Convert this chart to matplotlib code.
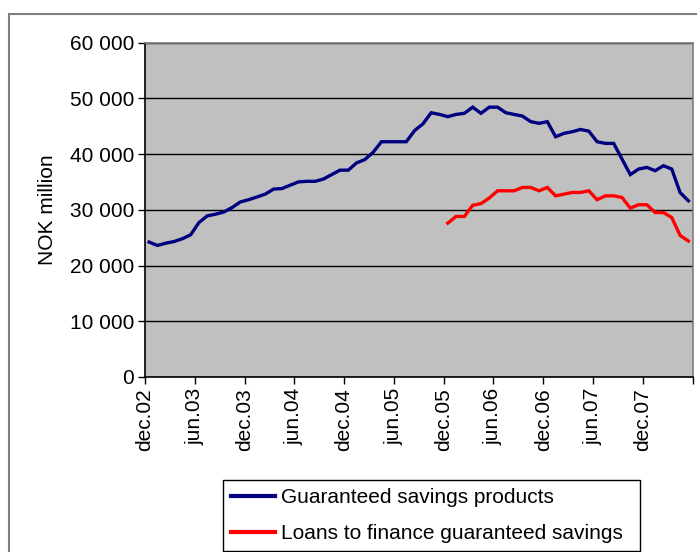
import matplotlib
matplotlib.use("Agg")
import matplotlib.pyplot as plt
from matplotlib.patches import Rectangle
from matplotlib.ticker import FuncFormatter

plt.rcParams['font.family'] = ['Liberation Sans', 'DejaVu Sans']

# monthly data, dec.02 .. may.08 (NOK million)
savings = [24200, 23600, 24000, 24300, 24800, 25500, 27700, 28900, 29200, 29600,
           30400, 31400, 31800, 32300, 32800, 33700, 33800, 34400, 35000, 35100,
           35100, 35500, 36300, 37100, 37100, 38400, 39000, 40300, 42200, 42200,
           42200, 42200, 44200, 45400, 47400, 47100, 46700, 47100, 47300, 48400,
           47300, 48400, 48400, 47400, 47100, 46800, 45800, 45500, 45800, 43100,
           43700, 44000, 44400, 44100, 42200, 41900, 41900, 39100, 36300, 37300,
           37600, 37000, 37900, 37300, 33100, 31600]
# loans start at dec.05
loans = [27600, 28800, 28800, 30800, 31100, 32100, 33400, 33400, 33400, 34000,
         34000, 33400, 34000, 32500, 32800, 33100, 33100, 33400, 31800, 32500,
         32500, 32200, 30300, 30900, 30900, 29500, 29500, 28600, 25400, 24400]
loans_start = 36
tick_labels = ["dec.02", "jun.03", "dec.03", "jun.04", "dec.04", "jun.05",
               "dec.05", "jun.06", "dec.06", "jun.07", "dec.07"]

W, H = 697, 552
fig = plt.figure(figsize=(W / 100, H / 100), dpi=100)

# chart area frame
fig.add_artist(Rectangle((9 / W, -0.1), 1.2, 1 - 14 / H + 0.1, transform=fig.transFigure,
                         fill=False, edgecolor="#808080", lw=1.5))

ax = fig.add_axes([145 / W, 1 - 377 / H, (692.5 - 145) / W, (377 - 42.5) / H])
ax.set_facecolor("#C0C0C0")
for s in ax.spines.values():
    s.set_color("#808080")
    s.set_linewidth(1.2)
ax.spines['left'].set_color("black")
ax.spines['bottom'].set_color("black")

n = len(savings)
xs = [i + 0.5 for i in range(n)]
xl = [i + 0.5 for i in range(loans_start, loans_start + len(loans))]

ax.plot(xs, savings, color="#000080", lw=2.4, label="Guaranteed savings products",
        solid_joinstyle="miter")
ax.plot(xl, loans, color="#FF0000", lw=2.4, label="Loans to finance guaranteed savings",
        solid_joinstyle="miter")

ax.set_xlim(0, n)
ax.set_ylim(0, 60000)
ax.set_yticks(range(0, 60001, 10000))
ax.yaxis.set_major_formatter(FuncFormatter(lambda v, p: f"{int(v):,}".replace(",", " ")))
ax.set_xticks(list(range(0, n + 1, 6)))
ax.set_xticklabels(tick_labels + [""] * (len(range(0, n + 1, 6)) - len(tick_labels)),
                   rotation=90)
ax.grid(axis="y", color="black", lw=1)
ax.set_axisbelow(True)
ax.tick_params(direction="out", length=5, width=1, labelsize=15, pad=3)
ax.set_ylabel("NOK million", fontsize=15, labelpad=9)

leg = ax.legend(loc="upper left", bbox_to_anchor=(223 / W, 1 - 480 / H - 0.2, (640 - 223) / W, 0.2),
                bbox_transform=fig.transFigure, mode="expand", fancybox=False,
                framealpha=1, edgecolor="black", fontsize=15, borderaxespad=0,
                handlelength=2.1, handletextpad=0.3, labelspacing=0.8, borderpad=0.4)
leg.get_frame().set_linewidth(1)
for line in leg.get_lines():
    line.set_linewidth(3)

fig.savefig("out.png", dpi=100)
